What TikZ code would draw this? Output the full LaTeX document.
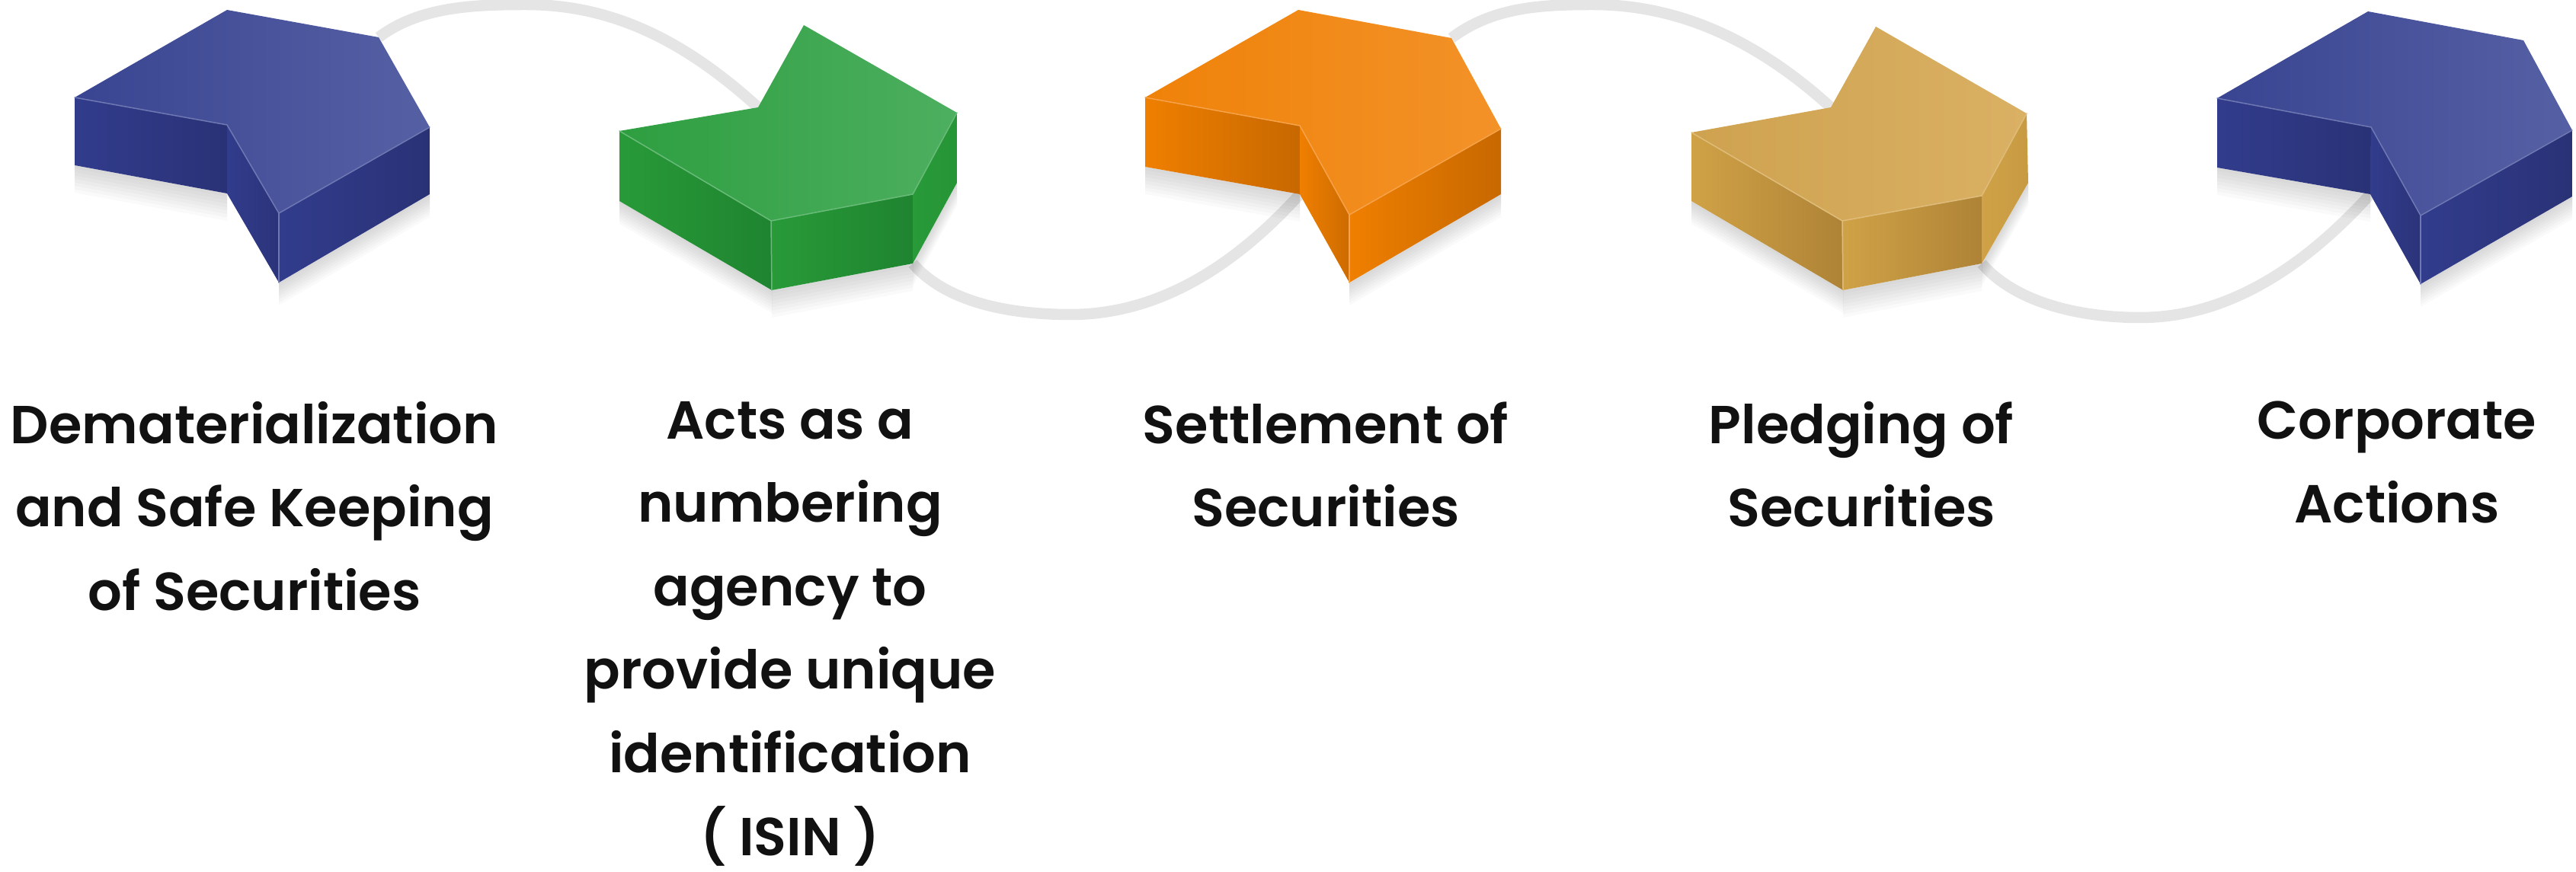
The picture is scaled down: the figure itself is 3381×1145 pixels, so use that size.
\documentclass[tikz,border=0pt]{standalone}
\usepackage{fontspec}
\setmainfont{Poppins}[BoldFont={Poppins SemiBold}]
\usepackage{xcolor}
\usepackage{tikz}
\usetikzlibrary{positioning, calc}
\definecolor{linkgray}{HTML}{E5E5E5}
\definecolor{inkblack}{HTML}{111111}
\tikzset{
  linkline/.style={draw=linkgray, line width=0.29cm},
  caption/.style={anchor=north, align=center, text=inkblack,
    font=\fontsize{40}{62.3}\selectfont\bfseries, execute at begin node=\strut},
  edgelight/.style={line width=0.03cm, line cap=round},
}
% soft shadow under one bottom edge
\newcommand{\softshadow}[3]{
  \foreach \k in {1,...,8}
    \fill[black, opacity=0.018] (#1) -- (#2) -- ($(#2)+(0,#3*\k/8)$) -- ($(#1)+(0,#3*\k/8)$) -- cycle;
}
% block with the notch on its left: points a..j set before
\newcommand{\notchblock}[5]{
  \softshadow{#1ab}{#1fb}{36}
  \softshadow{#1g}{#1db}{30}
  \shade[left color=#4, right color=#5] (#1a) -- (#1f) -- (#1fb) -- (#1ab) -- cycle;
  \shade[left color=#4, right color=#5!85!#4] (#1f) -- (#1e) -- (#1g) -- (#1fb) -- cycle;
  \shade[left color=#4, right color=#5] (#1e) -- (#1d) -- (#1db) -- (#1g) -- cycle;
  \shade[left color=#2, right color=#3] (#1a) -- (#1b) -- (#1c) -- (#1d) -- (#1e) -- (#1f) -- cycle;
  \draw[edgelight, draw=#3!85!white] (#1a) -- (#1f) -- (#1e) -- (#1d);
  \draw[edgelight, draw=#3!85!white] (#1e) -- (#1g);
}
% block with the notch on top: points p..v set before
\newcommand{\topblock}[5]{
  \softshadow{#1pb}{#1ub}{30}
  \softshadow{#1ub}{#1tb}{36}
  \softshadow{#1tb}{#1sb}{30}
  \shade[left color=#4, right color=#5] (#1p) -- (#1u) -- (#1ub) -- (#1pb) -- cycle;
  \shade[left color=#4, right color=#5] (#1u) -- (#1t) -- (#1tb) -- (#1ub) -- cycle;
  \shade[left color=#4, right color=#4!75!#5] (#1t) -- (#1s) -- (#1sb) -- (#1tb) -- cycle;
  \shade[left color=#2, right color=#3] (#1p) -- (#1q) -- (#1r) -- (#1s) -- (#1t) -- (#1u) -- cycle;
  \draw[edgelight, draw=#3!85!white] (#1p) -- (#1u) -- (#1t) -- (#1s);
  \draw[edgelight, draw=#3!85!white] (#1u) -- (#1ub);
}
\definecolor{navyL}{HTML}{3A4592}
\definecolor{navyR}{HTML}{5560A4}
\definecolor{navyS}{HTML}{313C8C}
\definecolor{navyD}{HTML}{2A3276}
\definecolor{leafL}{HTML}{2E9E40}
\definecolor{leafR}{HTML}{4DAF60}
\definecolor{leafS}{HTML}{289A38}
\definecolor{leafD}{HTML}{1F8430}
\definecolor{fireL}{HTML}{EF8209}
\definecolor{fireR}{HTML}{F39229}
\definecolor{fireS}{HTML}{EF7F00}
\definecolor{fireD}{HTML}{C76800}
\definecolor{sandL}{HTML}{CEA24F}
\definecolor{sandR}{HTML}{DAB064}
\definecolor{sandS}{HTML}{D0A247}
\definecolor{sandD}{HTML}{AE8336}
\begin{document}
\begin{tikzpicture}[x=0.02cm, y=-0.02cm]
  \useasboundingbox (0,0) rectangle (3381,1145);
  % first block
  \coordinate (na) at (98,128); \coordinate (nb) at (298,13); \coordinate (nc) at (497,49);
  \coordinate (nd) at (564,167); \coordinate (ne) at (366,280); \coordinate (nf) at (298,164);
  \coordinate (nab) at (98,217); \coordinate (nfb) at (298,254); \coordinate (ng) at (366,371);
  \coordinate (ndb) at (564,255);
  % second block
  \coordinate (gp) at (813,172); \coordinate (gq) at (995,141); \coordinate (gr) at (1055,33);
  \coordinate (gs) at (1256,148); \coordinate (gt) at (1198,255); \coordinate (gu) at (1012,290);
  \coordinate (gpb) at (813,264); \coordinate (gub) at (1013,381); \coordinate (gtb) at (1198,346);
  \coordinate (gsb) at (1256,240);
  % third block
  \coordinate (oa) at (1503,128); \coordinate (ob) at (1704,13); \coordinate (oc) at (1905,50);
  \coordinate (od) at (1970,169); \coordinate (oe) at (1771,282); \coordinate (of) at (1706,165);
  \coordinate (oab) at (1503,219); \coordinate (ofb) at (1706,255); \coordinate (og) at (1771,371);
  \coordinate (odb) at (1970,255);
  % fourth block
  \coordinate (sp) at (2220,174); \coordinate (sq) at (2403,141); \coordinate (sr) at (2462,35);
  \coordinate (ss) at (2660,149); \coordinate (st) at (2601,257); \coordinate (su) at (2418,290);
  \coordinate (spb) at (2220,264); \coordinate (sub) at (2419,381); \coordinate (stb) at (2601,346);
  \coordinate (ssb) at (2662,240);
  % fifth block
  \coordinate (va) at (2910,129); \coordinate (vb) at (3108,15); \coordinate (vc) at (3312,53);
  \coordinate (vd) at (3376,171); \coordinate (ve) at (3177,283); \coordinate (vf) at (3112,167);
  \coordinate (vab) at (2910,220); \coordinate (vfb) at (3111,255); \coordinate (vg) at (3177,373);
  \coordinate (vdb) at (3376,258);
  % links go under the blocks
  \coordinate (peakA) at (690,6); \coordinate (dipA) at (1405,413);
  \coordinate (peakB) at (2090,6); \coordinate (dipB) at (2809,417);
  \draw[linkline] (nc) .. controls +(53,-40) and +(-70,0) .. (peakA)
    .. controls +(110,0) and +(-100,-91) .. (gq);
  \draw[linkline] (gtb) .. controls +(42,49) and +(-85,0) .. (dipA)
    .. controls +(115,0) and +(-86,95) .. (ofb);
  \draw[linkline] (oc) .. controls +(53,-40) and +(-70,0) .. (peakB)
    .. controls +(110,0) and +(-100,-91) .. (sq);
  \draw[linkline] (stb) .. controls +(42,49) and +(-85,0) .. (dipB)
    .. controls +(115,0) and +(-86,95) .. (vfb);
  \notchblock{n}{navyL}{navyR}{navyS}{navyD}
  \topblock{g}{leafL}{leafR}{leafS}{leafD}
  \notchblock{o}{fireL}{fireR}{fireS}{fireD}
  \topblock{s}{sandL}{sandR}{sandS}{sandD}
  \notchblock{v}{navyL}{navyR}{navyS}{navyD}
  % captions
  \node[caption] (capA) at (334,521) {Dematerialization\\and Safe Keeping\\of Securities};
  \node[caption] (capB) at (1037,521) {Acts as a\\numbering\\agency to\\provide unique\\identification\\( ISIN )};
  \node[caption] (capC) at (1740,521) {Settlement of\\Securities};
  \node[caption] (capD) at (2443,521) {Pledging of\\Securities};
  \node[caption] (capE) at (3146,521) {Corporate\\Actions};
\end{tikzpicture}
\end{document}
